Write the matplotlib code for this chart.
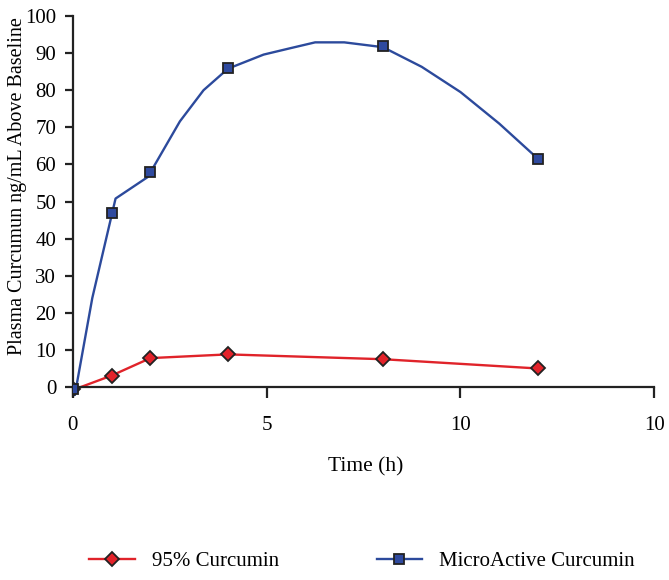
import matplotlib
matplotlib.use("Agg")
import matplotlib.pyplot as plt
from matplotlib.lines import Line2D

# Measured points
time_h = [0, 1, 2, 4, 8, 12]
curcumin95 = [-0.5, 3.1, 7.8, 8.8, 7.5, 5.0]
microactive = [-0.5, 47, 58, 86, 91.8, 61.5]

# Smoothed trend curve for MicroActive
micro_curve_t = [0.05, 0.5, 1.1, 1.93, 2.76, 3.37, 4.0, 4.92, 5.6, 6.25, 7.0, 8.0, 9.0, 10.0, 11.0, 12.0]
micro_curve_y = [-2.1, 24, 50.8, 56.6, 71.6, 80, 85.8, 89.6, 91.3, 92.9, 92.9, 91.6, 86.3, 79.5, 71, 61.5]

# Red line points (straight segments between markers)
red_line_t = [0.05, 1, 2, 4, 8, 12]
red_line_y = [-0.6, 3.1, 7.8, 8.8, 7.5, 5.0]

xticks = [0, 5, 10, 15]
xtick_labels = ["0", "5", "10", "10"]
yticks = [0, 10, 20, 30, 40, 50, 60, 70, 80, 90, 100]

plt.rcParams['font.family'] = ['Liberation Serif', 'DejaVu Serif']

fig = plt.figure(figsize=(6.69, 5.8), dpi=100)
ax = fig.add_axes([0.109, 0.3167, 0.869, 0.6557])

red = '#e0232a'
blue = '#2c4a9c'
edge = '#222222'

ax.plot(red_line_t, red_line_y, color=red, lw=1.7, zorder=2)
ax.plot(micro_curve_t, micro_curve_y, color=blue, lw=1.7, zorder=2)
ax.plot(time_h, curcumin95, linestyle='none', marker='D', ms=7.5,
        markerfacecolor='#e3222a', markeredgecolor=edge, markeredgewidth=1.3, zorder=3)
ax.plot(time_h, microactive, linestyle='none', marker='s', ms=6.8,
        markerfacecolor='#2f4a9f', markeredgecolor=edge, markeredgewidth=1.3, zorder=3)

ax.set_xlim(0, 15)
ax.set_ylim(-2.5, 100)
ax.spines['top'].set_visible(False)
ax.spines['right'].set_visible(False)
ax.spines['bottom'].set_position(('data', 0))
ax.spines['left'].set_bounds(-2.5, 100)
for s in ['left', 'bottom']:
    ax.spines[s].set_linewidth(1.6)
    ax.spines[s].set_color(edge)

ax.set_xticks(xticks)
ax.set_xticklabels(xtick_labels)
ax.set_yticks(yticks)
ax.tick_params(axis='x', direction='out', length=8, width=1.6, color=edge, labelsize=15, pad=13)
ax.tick_params(axis='y', direction='out', length=6, width=1.6, color=edge, labelsize=15, pad=6)

fig.text(18 / 669, 1 - 186.5 / 580, 'Plasma Curcumun ng/mL Above Baseline', fontsize=14.5,
         rotation=90, ha='center', va='center')
fig.text(366 / 669, 1 - 467 / 580, 'Time (h)', fontsize=15.5, ha='center', va='center')

h1 = Line2D([], [], color=red, lw=1.7, marker='D', ms=7.5, markerfacecolor='#e3222a',
            markeredgecolor=edge, markeredgewidth=1.3)
h2 = Line2D([], [], color=blue, lw=1.7, marker='s', ms=6.8, markerfacecolor='#2f4a9f',
            markeredgecolor=edge, markeredgewidth=1.3)
fig.legend([h1, h2], ['95% Curcumin', 'MicroActive Curcumin'], loc='center left',
           bbox_to_anchor=(89 / 669, 1 - 561 / 580), ncol=2, frameon=False, fontsize=15,
           handlelength=2.2, columnspacing=4.7, handletextpad=0.8,
           borderpad=0, borderaxespad=0)

fig.savefig('out.png', dpi=100)
